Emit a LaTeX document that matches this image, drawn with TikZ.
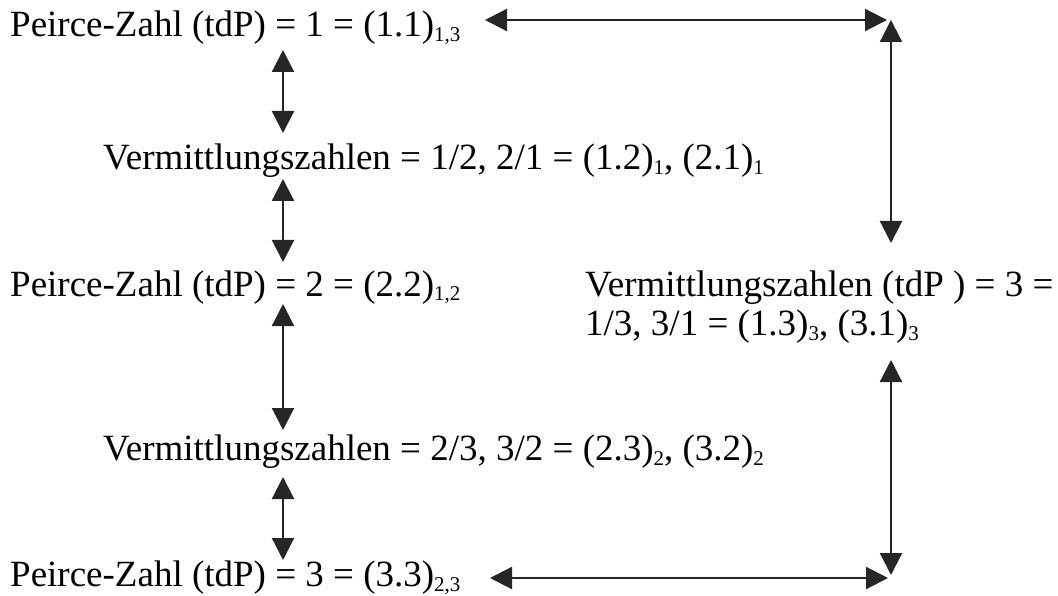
\documentclass[tikz,border=0pt]{standalone}
\usepackage{fontspec}
\setmainfont{Liberation Serif}
\usetikzlibrary{arrows.meta}
\newcommand\sbs[1]{\raisebox{-5pt}{\fontsize{21}{21}\selectfont #1}}
\tikzset{
  lbl/.style={anchor=base west, inner sep=0pt, font=\fontsize{37}{40}\selectfont},
  dbl/.style={line width=2.2pt, draw=black!85, {Triangle[length=22pt,width=22pt]}-{Triangle[length=22pt,width=22pt]}}
}
\begin{document}
\begin{tikzpicture}[x=1pt,y=-1pt]
\useasboundingbox (0,0) rectangle (1058,596);
\node[lbl] (t1) at (10,37) {Peirce-Zahl (tdP) = 1 = (1.1)\sbs{1,3}};
\node[lbl] (t2) at (103,170) {Vermittlungszahlen = 1/2, 2/1 = (1.2)\sbs{1}, (2.1)\sbs{1}};
\node[lbl] (t3) at (10,296) {Peirce-Zahl (tdP) = 2 = (2.2)\sbs{1,2}};
\node[lbl] (t4a) at (585,296) {Vermittlungszahlen (tdP ) = 3 =};
\node[lbl] (t4b) at (585,335) {1/3, 3/1 = (1.3)\sbs{3}, (3.1)\sbs{3}};
\node[lbl] (t5) at (103,460) {Vermittlungszahlen = 2/3, 3/2 = (2.3)\sbs{2}, (3.2)\sbs{2}};
\node[lbl] (t6) at (10,586) {Peirce-Zahl (tdP) = 3 = (3.3)\sbs{2,3}};
\coordinate (a1s) at (283,50);  \coordinate (a1e) at (283,133);
\coordinate (a2s) at (283,179); \coordinate (a2e) at (283,262);
\coordinate (a3s) at (283,304); \coordinate (a3e) at (283,430);
\coordinate (a4s) at (283,477); \coordinate (a4e) at (283,560);
\coordinate (h1s) at (485,20);  \coordinate (h1e) at (887,20);
\coordinate (v1s) at (891,20);  \coordinate (v1e) at (891,243);
\coordinate (v2s) at (891,360); \coordinate (v2e) at (891,575);
\coordinate (h2s) at (490,578); \coordinate (h2e) at (888,578);
\draw[dbl] (a1s) -- (a1e);
\draw[dbl] (a2s) -- (a2e);
\draw[dbl] (a3s) -- (a3e);
\draw[dbl] (a4s) -- (a4e);
\draw[dbl] (h1s) -- (h1e);
\draw[dbl] (v1s) -- (v1e);
\draw[dbl] (v2s) -- (v2e);
\draw[dbl] (h2s) -- (h2e);
\end{tikzpicture}
\end{document}
